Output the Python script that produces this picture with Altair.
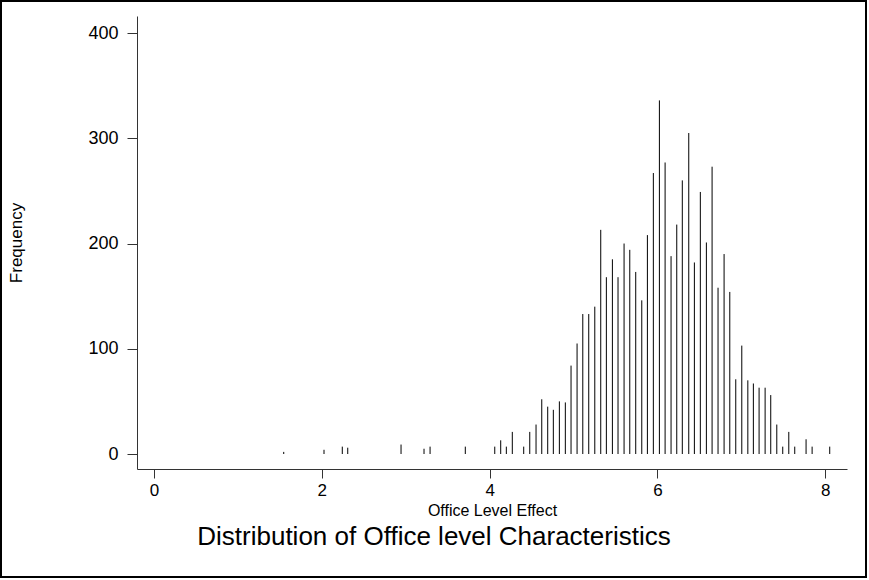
import altair as alt
import pandas as pd

effect = [1.546, 2.026, 2.244, 2.309, 2.944, 3.218, 3.290, 3.710,
          4.061, 4.132, 4.199, 4.270, 4.406, 4.478, 4.553, 4.621, 4.692, 4.759,
          4.831, 4.902, 4.970, 5.042, 5.110, 5.181, 5.253, 5.324, 5.391, 5.463,
          5.530, 5.602, 5.670, 5.741, 5.813, 5.880, 5.951, 6.023, 6.091, 6.162,
          6.230, 6.296, 6.373, 6.440, 6.511, 6.583, 6.651, 6.722, 6.794, 6.862,
          6.933, 7.005, 7.077, 7.143, 7.211, 7.283, 7.350, 7.422, 7.493, 7.565,
          7.636, 7.771, 7.843, 8.053]
frequency = [2, 4, 7, 6, 9, 5, 7, 7,
             7, 13, 7, 21, 7, 21, 28, 52, 45, 42,
             50, 49, 84, 105, 133, 133, 140, 213, 168, 185,
             168, 200, 194, 173, 146, 208, 267, 336, 277, 188,
             218, 260, 305, 182, 249, 201, 273, 158, 190, 154,
             71, 103, 70, 67, 63, 63, 56, 28, 7, 21,
             7, 14, 7, 7]

x_ticks = [0, 2, 4, 6, 8]
y_ticks = [0, 100, 200, 300, 400]

df = pd.DataFrame({"effect": effect, "freq": frequency, "zero": [0] * len(effect)})

FONT = "Liberation Sans"

x_scale = alt.Scale(domain=[-0.2026, 8.2588], nice=False, zero=False)
y_scale = alt.Scale(domain=[-14.25, 416.2], nice=False, zero=False)

spikes = alt.Chart(df).mark_rule(color="black", strokeWidth=1).encode(
    x=alt.X("effect:Q", scale=x_scale,
            axis=alt.Axis(values=x_ticks, title="Office Level Effect", grid=False,
                          tickSize=9, labelPadding=4, labelFontSize=17,
                          titleFontSize=16, titleFontWeight="normal",
                          titleBaseline="alphabetic", titleX=355, titleY=46,
                          domainColor="#333333", tickColor="#333333",
                          labelColor="black", titleColor="black",
                          labelFont=FONT, titleFont=FONT, format="d")),
    y=alt.Y("freq:Q", scale=y_scale,
            axis=alt.Axis(values=y_ticks, title="Frequency", grid=False,
                          tickSize=10, labelPadding=9, labelFontSize=18,
                          titleFontSize=17, titleFontWeight="normal",
                          titleX=-112, titleY=226.5,
                          domainColor="#333333", tickColor="#333333",
                          labelColor="black", titleColor="black",
                          labelFont=FONT, titleFont=FONT, format="d")),
    y2="zero:Q",
)

frame = alt.Chart(pd.DataFrame({"a": [0]})).mark_rect(
    fill=None, stroke="black", strokeWidth=2
).encode(
    x=alt.value(-136), x2=alt.value(729),
    y=alt.value(-15), y2=alt.value(561),
)

title_text = alt.Chart(pd.DataFrame({"t": ["Distribution of Office level Characteristics"]})).mark_text(
    font=FONT, fontSize=26, align="center", baseline="alphabetic", color="black"
).encode(
    x=alt.value(297), y=alt.value(529), text="t:N"
)

chart = alt.layer(spikes, title_text, frame).properties(
    width=710, height=453,
    autosize=alt.AutoSizeParams(type="none"),
    padding={"left": 137, "top": 16, "right": 22, "bottom": 111},
    background="white",
).configure_view(stroke=None)

chart.save("out.html", embed_options={"renderer": "svg", "actions": False})
